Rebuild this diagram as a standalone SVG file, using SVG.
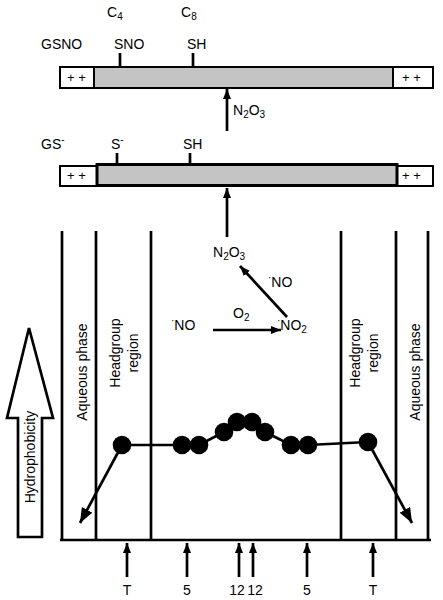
<svg xmlns="http://www.w3.org/2000/svg" width="443" height="600" viewBox="0 0 443 600">
<style>
text{font-family:"Liberation Sans",Arial,sans-serif;font-size:14px;fill:#000}
.pp{font-size:13px}
.sub{font-size:10px}
.ln{stroke:#000;stroke-width:2.7;fill:none}
.gray{fill:#c4c4c4}
.wb{fill:#fff;stroke:#000;stroke-width:2}
</style>
<defs>
<marker id="ah" markerUnits="userSpaceOnUse" markerWidth="10" markerHeight="8" refX="10" refY="4" orient="auto"><path d="M0,0 L10,4 L0,8 z" fill="#000"/></marker>
<marker id="ahL" markerUnits="userSpaceOnUse" markerWidth="15" markerHeight="12" refX="15" refY="6" orient="auto"><path d="M0,0 L15,6 L0,12 z" fill="#000"/></marker>
</defs>
<rect width="443" height="600" fill="#fff"/>

<g id="gsno">
<rect x="60" y="67" width="373" height="21" class="wb"/>
<rect x="94" y="67" width="299" height="21" class="gray" stroke="#000" stroke-width="2"/>
<text class="pp" x="67" y="82">+ +</text>
<text class="pp" x="402" y="82">+ +</text>
<line x1="120" y1="53" x2="120" y2="67" class="ln"/>
<line x1="193" y1="53" x2="193" y2="67" class="ln"/>
<text x="41" y="49">GSNO</text>
<text x="114" y="49">SNO</text>
<text x="187" y="49">SH</text>
<text x="107" y="17">C<tspan class="sub" dy="3">4</tspan></text>
<text x="181" y="17">C<tspan class="sub" dy="3">8</tspan></text>
</g>

<g id="gs">
<rect x="60" y="166" width="37" height="20" class="wb"/>
<rect x="397" y="166" width="36" height="20" class="wb"/>
<rect x="97" y="164.5" width="300" height="21" class="gray" stroke="#000" stroke-width="3"/>
<text class="pp" x="67" y="180">+ +</text>
<text class="pp" x="402" y="180">+ +</text>
<line x1="117" y1="153" x2="117" y2="164" class="ln"/>
<line x1="190" y1="153" x2="190" y2="164" class="ln"/>
<text x="41" y="149">GS<tspan class="sub" dy="-6">-</tspan></text>
<text x="111" y="149">S<tspan class="sub" dy="-6">-</tspan></text>
<text x="183" y="149">SH</text>
</g>

<g id="membrane">
<line x1="62" y1="231" x2="62" y2="540" class="ln"/>
<line x1="96" y1="231" x2="96" y2="540" class="ln"/>
<line x1="151" y1="231" x2="151" y2="540" class="ln"/>
<line x1="341" y1="231" x2="341" y2="540" class="ln"/>
<line x1="396" y1="231" x2="396" y2="540" class="ln"/>
<line x1="428" y1="231" x2="428" y2="540" class="ln"/>
<line x1="60" y1="540" x2="431" y2="540" class="ln"/>
<text transform="translate(82,372) rotate(-90)" text-anchor="middle" dy="0.35em">Aqueous phase</text>
<text transform="translate(415,372) rotate(-90)" text-anchor="middle" dy="0.35em">Aqueous phase</text>
<text transform="translate(115,353) rotate(-90)" text-anchor="middle" dy="0.35em">Headgroup</text>
<text transform="translate(133,353) rotate(-90)" text-anchor="middle" dy="0.35em">region</text>
<text transform="translate(355,353) rotate(-90)" text-anchor="middle" dy="0.35em">Headgroup</text>
<text transform="translate(373,353) rotate(-90)" text-anchor="middle" dy="0.35em">region</text>
</g>

<g id="hydrophobicity">
<polygon points="29,328 53,418 42,418 42,537 18,537 18,418 7,418" fill="#fff" stroke="#000" stroke-width="2.7" stroke-linejoin="miter"/>
<text transform="translate(30,457) rotate(-90)" text-anchor="middle" dy="0.35em">Hydrophobicity</text>
</g>

<g id="labels">
<text x="233" y="115">N<tspan class="sub" dy="3">2</tspan><tspan dy="-3">O</tspan><tspan class="sub" dy="3">3</tspan></text>
<text x="213" y="257">N<tspan class="sub" dy="3">2</tspan><tspan dy="-3">O</tspan><tspan class="sub" dy="3">3</tspan></text>
<text x="268" y="287"><tspan class="sub" dy="-6">·</tspan><tspan dy="6">NO</tspan></text>
<text x="233" y="318">O<tspan class="sub" dy="3">2</tspan></text>
<text x="171" y="330"><tspan class="sub" dy="-6">·</tspan><tspan dy="6">NO</tspan></text>
<text x="277" y="330"><tspan class="sub" dy="-6">·</tspan><tspan dy="6">NO</tspan><tspan class="sub" dy="3">2</tspan></text>
<text x="127" y="595" text-anchor="middle">T</text>
<text x="187" y="595" text-anchor="middle">5</text>
<text x="237" y="595" text-anchor="middle">12</text>
<text x="255" y="595" text-anchor="middle">12</text>
<text x="307" y="595" text-anchor="middle">5</text>
<text x="373" y="595" text-anchor="middle">T</text>
</g>

<g id="connectors">
<line x1="227" y1="131" x2="227" y2="89" class="ln" marker-end="url(#ah)"/>
<line x1="227" y1="237" x2="227" y2="188" class="ln" marker-end="url(#ah)"/>
<line x1="287" y1="317" x2="240" y2="266" class="ln" marker-end="url(#ah)"/>
<line x1="213" y1="330" x2="281" y2="330" class="ln" marker-end="url(#ah)"/>
<polyline points="122,445 182,445 199,445 224,432 237,422 252,422 265,432 291,445 308,445 368,442" class="ln"/>
<line x1="122" y1="445" x2="80" y2="523" class="ln" marker-end="url(#ahL)"/>
<line x1="368" y1="442" x2="412" y2="523" class="ln" marker-end="url(#ahL)"/>
<line x1="127" y1="577" x2="127" y2="543" class="ln" marker-end="url(#ah)"/>
<line x1="187" y1="577" x2="187" y2="543" class="ln" marker-end="url(#ah)"/>
<line x1="239" y1="577" x2="239" y2="543" class="ln" marker-end="url(#ah)"/>
<line x1="253" y1="577" x2="253" y2="543" class="ln" marker-end="url(#ah)"/>
<line x1="307" y1="577" x2="307" y2="543" class="ln" marker-end="url(#ah)"/>
<line x1="373" y1="577" x2="373" y2="543" class="ln" marker-end="url(#ah)"/>
</g>

<g id="dots" fill="#000">
<circle cx="122" cy="445" r="9.3"/>
<circle cx="182" cy="445" r="9.3"/>
<circle cx="199" cy="445" r="9.3"/>
<circle cx="224" cy="432" r="9.3"/>
<circle cx="237" cy="422" r="9.3"/>
<circle cx="252" cy="422" r="9.3"/>
<circle cx="265" cy="432" r="9.3"/>
<circle cx="291" cy="445" r="9.3"/>
<circle cx="308" cy="445" r="9.3"/>
<circle cx="368" cy="442" r="9.3"/>
</g>
</svg>
